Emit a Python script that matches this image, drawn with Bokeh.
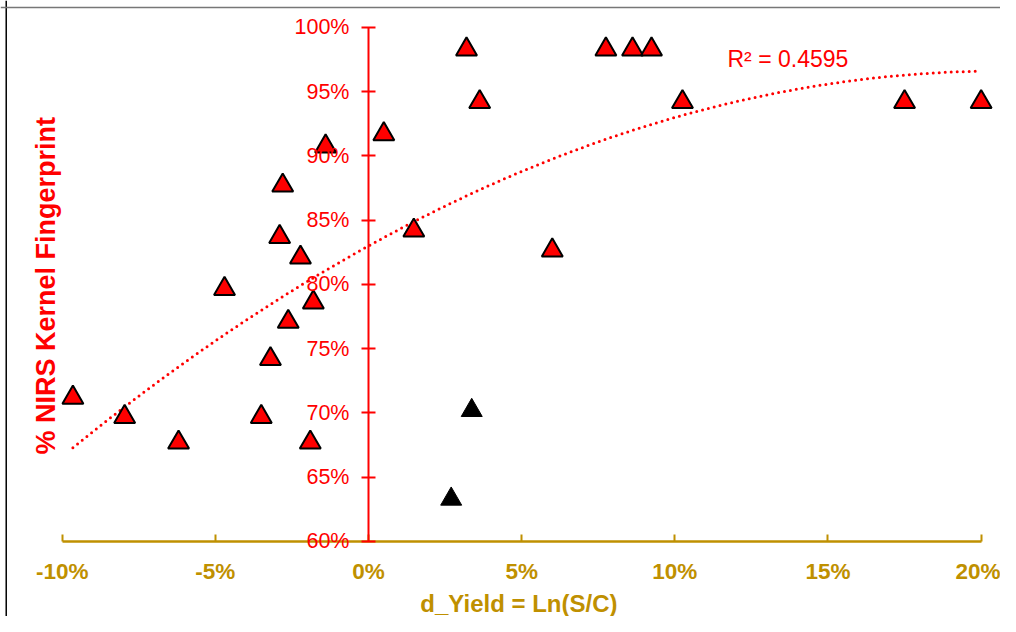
import numpy as np
from bokeh.plotting import figure
from bokeh.models import (LinearAxis, FixedTicker, PrintfTickFormatter, Range1d,
                          Label, Span)
from bokeh.embed import file_html
from bokeh.resources import INLINE

# ---- data (percent units) ----
red_x = [-9.65, -7.96, -6.2, -4.7, -3.5, -3.2, -2.9, -2.8, -2.62, -2.22, -1.9, -1.8,
         -1.4, 0.5, 1.48, 3.2, 3.63, 6.0, 7.75, 8.62, 9.24, 10.25, 17.5, 20.0]
red_y = [71.2, 69.7, 67.7, 79.66, 69.7, 74.2, 83.7, 87.7, 77.1, 82.1, 67.7, 78.6,
         90.74, 91.7, 84.2, 98.3, 94.2, 82.65, 98.3, 98.3, 98.3, 94.2, 94.2, 94.2]
black_x = [2.7, 3.37]
black_y = [63.3, 70.2]
# order-2 polynomial trendline as shown (c0, c1, c2)
trend_coef = [83.0, 1.319, -0.03195]
x_ticks = [-10, -5, 0, 5, 10, 15, 20]
y_ticks = [60, 65, 70, 75, 80, 85, 90, 95, 100]
r2_text = "R\u00b2 = 0.4595"
x_title = "d_Yield  = Ln(S/C)"
y_title = "% NIRS  Kernel Fingerprint"

RED = "#FF0000"
GOLD = "#BF9000"
FONT = "Liberation Sans"

tx = np.linspace(min(red_x), max(red_x), 200)
ty = trend_coef[0] + trend_coef[1] * tx + trend_coef[2] * tx ** 2

x0, x1 = -12.013, 20.632
y0, y1 = 54.163, 102.101

p = figure(width=1000, height=616, output_backend="svg", toolbar_location=None,
           x_axis_type=None, y_axis_type=None,
           x_range=Range1d(x0, x1), y_range=Range1d(y0, y1),
           min_border=0, min_border_left=0, min_border_right=0,
           min_border_top=0, min_border_bottom=0)
p.outline_line_color = None
p.background_fill_color = "white"
p.border_fill_color = "white"

# frame border lines (left & top)
p.add_layout(Span(location=-11.826, dimension="height", line_color="black", line_width=1.5))
p.add_layout(Span(location=101.556, dimension="width", line_color="#777777", line_width=1.5))

# y axis crossing at x = 0
yax = LinearAxis(fixed_location=0, bounds=(60, 100),
                 ticker=FixedTicker(ticks=y_ticks),
                 formatter=PrintfTickFormatter(format="%d%%"))
yax.axis_line_color = RED
yax.axis_line_width = 2
yax.major_tick_line_color = RED
yax.major_tick_line_width = 2
yax.major_tick_in = 7
yax.major_tick_out = 7
yax.minor_tick_line_color = None
yax.major_label_text_color = RED
yax.major_label_text_font = FONT
yax.major_label_text_font_size = "21.5px"
yax.major_label_standoff = 12
p.add_layout(yax, "left")

# x axis at y = 60
xax = LinearAxis(fixed_location=60, bounds=(-10, 20),
                 ticker=FixedTicker(ticks=x_ticks),
                 formatter=PrintfTickFormatter(format="%d%%"))
xax.axis_line_color = GOLD
xax.axis_line_width = 2.5
xax.major_tick_line_color = GOLD
xax.major_tick_line_width = 2
xax.major_tick_in = 7
xax.major_tick_out = 0
xax.minor_tick_line_color = None
xax.major_label_text_color = GOLD
xax.major_label_text_font = FONT
xax.major_label_text_font_style = "bold"
xax.major_label_text_font_size = "22.5px"
xax.major_label_standoff = 18
p.add_layout(xax, "below")

# trendline
p.line(tx, ty, line_color=RED, line_width=3, line_dash="0 6", line_cap="round")

# markers
p.scatter(black_x, black_y, marker="triangle", size=21, fill_color="black",
          line_color="black", line_width=1)
p.scatter(red_x, red_y, marker="triangle", size=21, fill_color=RED,
          line_color="black", line_width=2)

# texts
p.add_layout(Label(x=11.72, y=97.51, text=r2_text, text_color=RED, text_font=FONT,
                   text_font_size="23px", text_baseline="middle", text_align="left"))
p.add_layout(Label(x=5.02, y=55.2, text=x_title, text_color=GOLD, text_font=FONT,
                   text_font_style="bold", text_font_size="24px",
                   text_baseline="middle", text_align="center"))
p.add_layout(Label(x=-10.52, y=80.2, text=y_title, text_color=RED, text_font=FONT,
                   text_font_style="bold", text_font_size="27px", angle=np.pi / 2,
                   text_baseline="middle", text_align="center"))

open("out.html", "w").write(file_html(p, INLINE))
